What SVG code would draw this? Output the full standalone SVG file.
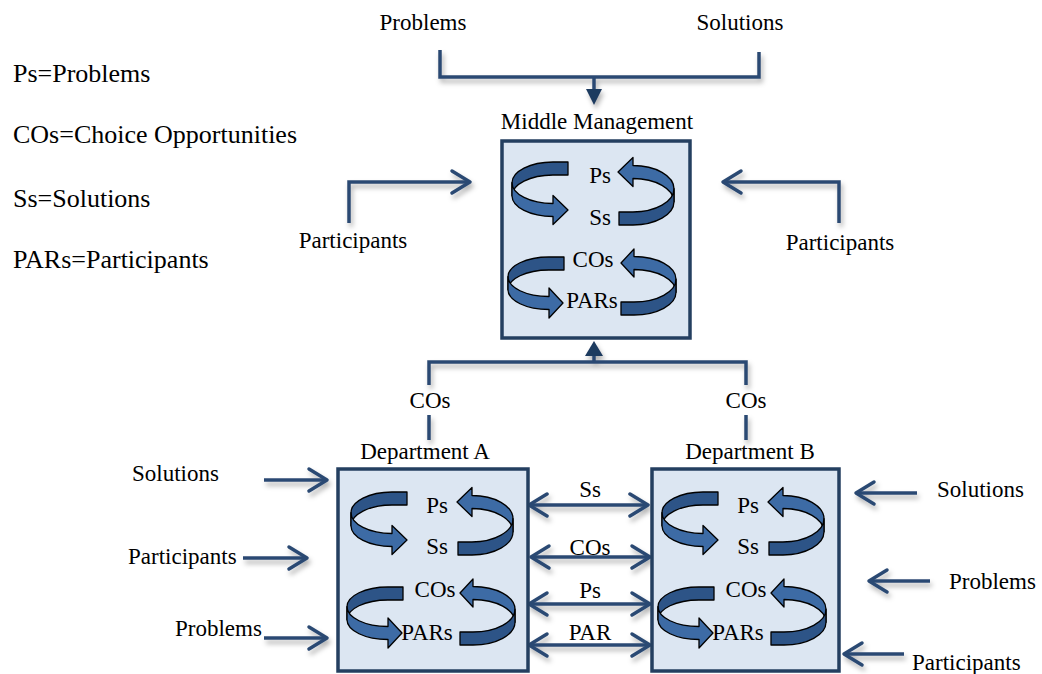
<svg xmlns="http://www.w3.org/2000/svg" xmlns:xlink="http://www.w3.org/1999/xlink" width="1042" height="674" viewBox="0 0 1042 674">
  <style>
    text { font-family: "Liberation Serif", "Times New Roman", serif; fill: #000; }
    .lbl { font-size: 23px; }
    .mid { text-anchor: middle; }
    .legend { font-size: 26px; }
    .box { fill: #dce6f2; stroke: #243f60; stroke-width: 3.5; }
    .conn { fill: none; stroke: #2b4a73; stroke-width: 3.5; stroke-linejoin: miter; }
    .arr { marker-end: url(#chev); }
    .darr { marker-start: url(#chev); marker-end: url(#chev); }
    .head { fill: #1f3a5f; }
    .rb-dark { fill: #2d5487; stroke: #000; stroke-width: 1.3; stroke-linejoin: round; }
    .rb-light { fill: #3d6ba5; stroke: #000; stroke-width: 1.3; stroke-linejoin: round; }
  </style>
  <defs>
    <filter id="sh" filterUnits="userSpaceOnUse" x="0" y="0" width="1042" height="674">
      <feDropShadow dx="2" dy="4" stdDeviation="2.5" flood-color="#000" flood-opacity="0.3"/>
    </filter>
    <marker id="chev" viewBox="-22 -14 26 28" refX="0" refY="0" markerWidth="26" markerHeight="28" markerUnits="userSpaceOnUse" orient="auto-start-reverse">
      <path d="M-18,-11 L0,0 L-18,11" fill="none" stroke="#2b4a73" stroke-width="3.5" stroke-linecap="round" stroke-linejoin="round"/>
    </marker>
    <!-- pair of cycling ribbon arrows, local coordinates from the box's top-left corner -->
    <g id="cycle-top">
      <path class="rb-dark" d="M69,23 L54,23 A41 20.75 0 0 0 13,43.75 L13,56.75 A41 20.75 0 0 1 54,36 L69,36 Z"/>
      <path class="rb-light" d="M13,43.75 A41 20.75 0 0 0 54,64.5 L54,56.5 L69,71 L54,85.5 L54,77.5 A41 20.75 0 0 1 13,56.75 Z"/>
      <path class="rb-light" d="M175,49.75 A41 23.25 0 0 0 134,26.5 L134,18.5 L119,33 L134,47.5 L134,39.5 A41 23.25 0 0 1 175,62.75 Z"/>
      <path class="rb-dark" d="M120,73 L134,73 A41 23.25 0 0 0 175,49.75 L175,62.75 A41 23.25 0 0 1 134,86 L120,86 Z"/>
    </g>
    <g id="cycle-bottom">
      <path class="rb-dark" d="M65,118 L50,118 A41 19.75 0 0 0 9,137.75 L9,150.75 A41 19.75 0 0 1 50,131 L65,131 Z"/>
      <path class="rb-light" d="M9,137.75 A41 19.75 0 0 0 50,157.5 L50,149 L64,164 L50,179 L50,170.5 A41 19.75 0 0 1 9,150.75 Z"/>
      <path class="rb-light" d="M177,140.25 A42 22.75 0 0 0 135,117.5 L135,110 L122,124 L135,138 L135,130.5 A42 22.75 0 0 1 177,153.25 Z"/>
      <path class="rb-dark" d="M122,163 L135,163 A42 22.75 0 0 0 177,140.25 L177,153.25 A42 22.75 0 0 1 135,176 L122,176 Z"/>
    </g>
  </defs>

  <rect width="1042" height="674" fill="#fff"/>

  <!-- legend -->
  <g id="legend">
    <text class="legend" x="13" y="82">Ps=Problems</text>
    <text class="legend" x="13" y="143">COs=Choice Opportunities</text>
    <text class="legend" x="13" y="207">Ss=Solutions</text>
    <text class="legend" x="13" y="268">PARs=Participants</text>
  </g>

  <!-- connectors -->
  <g id="connectors" filter="url(#sh)">
    <!-- inputs to middle management -->
    <path class="conn" d="M440,50 V77 H759 V52"/>
    <path class="conn" d="M594,77 V90"/>
    <polygon class="head" points="586,89 602,89 594,105"/>
    <path class="conn arr" d="M349,223 V182 H470"/>
    <path class="conn arr" d="M839,223 V182 H723"/>
    <!-- departments up to middle management -->
    <path class="conn" d="M429,440 V415 M429,385 V362 H746 V385 M746,415 V440"/>
    <path class="conn" d="M594,362 V353"/>
    <polygon class="head" points="585,356 603,356 594,341"/>
    <!-- between departments -->
    <path class="conn darr" d="M529,505 H648"/>
    <path class="conn darr" d="M531,557 H650"/>
    <path class="conn darr" d="M529,604 H650"/>
    <path class="conn darr" d="M529,645 H650"/>
    <!-- department A inputs -->
    <path class="conn arr" d="M264,480 H327"/>
    <path class="conn arr" d="M243,558 H307"/>
    <path class="conn arr" d="M264,638 H327"/>
    <!-- department B inputs -->
    <path class="conn arr" d="M917,493 H856"/>
    <path class="conn arr" d="M930,581 H869"/>
    <path class="conn arr" d="M904,654 H844"/>
  </g>

  <!-- external labels -->
  <g id="labels">
    <text class="lbl mid" x="423" y="30">Problems</text>
    <text class="lbl mid" x="740" y="30">Solutions</text>
    <text class="lbl mid" x="353" y="248">Participants</text>
    <text class="lbl mid" x="840" y="250">Participants</text>
    <text class="lbl mid" x="430" y="408">COs</text>
    <text class="lbl mid" x="746" y="408">COs</text>
    <text class="lbl mid" x="590" y="497">Ss</text>
    <text class="lbl mid" x="590" y="555">COs</text>
    <text class="lbl mid" x="590" y="598">Ps</text>
    <text class="lbl mid" x="590" y="640">PAR</text>
    <text class="lbl" x="132" y="481">Solutions</text>
    <text class="lbl" x="128" y="564">Participants</text>
    <text class="lbl" x="175" y="636">Problems</text>
    <text class="lbl" x="937" y="497">Solutions</text>
    <text class="lbl" x="949" y="589">Problems</text>
    <text class="lbl" x="912" y="670">Participants</text>
  </g>

  <!-- Middle Management -->
  <g id="middle-management">
    <text class="lbl mid" x="597" y="129">Middle Management</text>
    <rect class="box" x="502" y="141" width="188" height="197"/>
    <use xlink:href="#cycle-top" transform="translate(499,139)"/>
    <use xlink:href="#cycle-bottom" transform="translate(499,139)"/>
    <text class="lbl mid" x="600" y="183">Ps</text>
    <text class="lbl mid" x="600" y="225">Ss</text>
    <text class="lbl mid" x="593" y="267">COs</text>
    <text class="lbl mid" x="592" y="308">PARs</text>
  </g>

  <!-- Department A -->
  <g id="department-a">
    <text class="lbl mid" x="425" y="459">Department A</text>
    <rect class="box" x="338" y="469" width="190" height="202"/>
    <use xlink:href="#cycle-top" transform="translate(338,469)"/>
    <use xlink:href="#cycle-bottom" transform="translate(338,469)"/>
    <text class="lbl mid" x="437" y="513">Ps</text>
    <text class="lbl mid" x="437" y="554">Ss</text>
    <text class="lbl mid" x="435" y="597">COs</text>
    <text class="lbl mid" x="427" y="640">PARs</text>
  </g>

  <!-- Department B -->
  <g id="department-b">
    <text class="lbl mid" x="750" y="459">Department B</text>
    <rect class="box" x="652" y="469" width="187" height="202"/>
    <use xlink:href="#cycle-top" transform="translate(649,469)"/>
    <use xlink:href="#cycle-bottom" transform="translate(649,469)"/>
    <text class="lbl mid" x="748" y="513">Ps</text>
    <text class="lbl mid" x="748" y="554">Ss</text>
    <text class="lbl mid" x="746" y="597">COs</text>
    <text class="lbl mid" x="738" y="640">PARs</text>
  </g>
</svg>
